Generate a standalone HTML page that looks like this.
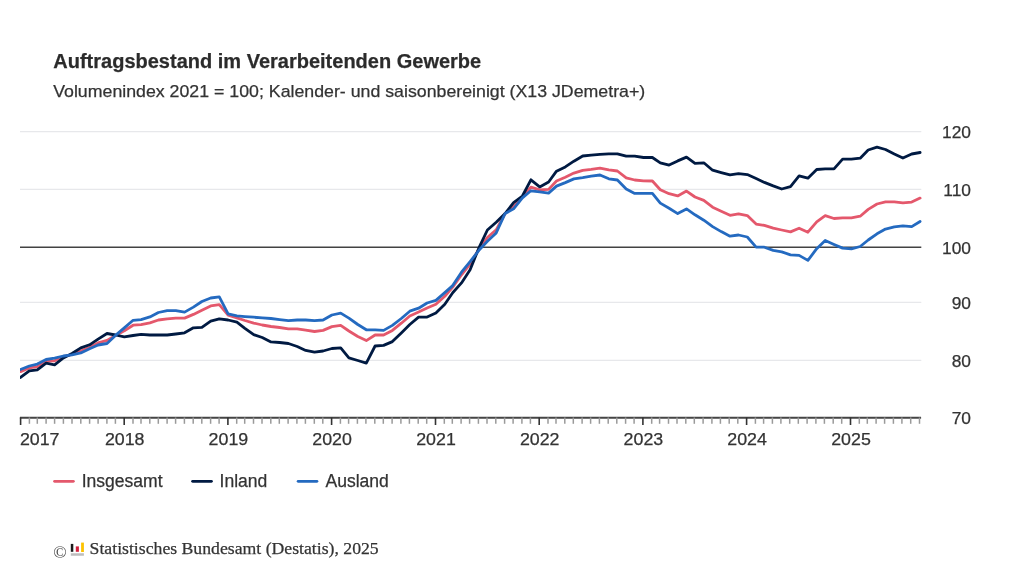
<!DOCTYPE html>
<html><head><meta charset="utf-8"><title>Auftragsbestand im Verarbeitenden Gewerbe</title>
<style>
html,body{margin:0;padding:0;background:#fff;}
body{width:1024px;height:576px;overflow:hidden;font-family:"Liberation Sans",sans-serif;}
svg{display:block;will-change:transform;filter:blur(0.4px);}
svg text{font-family:"Liberation Sans",sans-serif;stroke:#333;stroke-width:0.25px;}
.serif{font-family:"Liberation Serif",serif !important;}
</style></head><body>
<svg width="1024" height="576" viewBox="0 0 1024 576">
<rect width="1024" height="576" fill="#fff"/>
<text x="53.3" y="67.5" font-size="19.5" font-weight="bold" fill="#2b2b2b" textLength="427.9" lengthAdjust="spacingAndGlyphs">Auftragsbestand im Verarbeitenden Gewerbe</text>
<text x="53.2" y="97.25" font-size="17.15" fill="#333" textLength="592" lengthAdjust="spacingAndGlyphs">Volumenindex 2021 = 100; Kalender- und saisonbereinigt (X13 JDemetra+)</text>
<line x1="20" y1="131.65" x2="921.3" y2="131.65" stroke="#e7e8eb" stroke-width="1.2"/>
<line x1="20" y1="189.3" x2="921.3" y2="189.3" stroke="#e7e8eb" stroke-width="1.2"/>
<line x1="20" y1="302.45" x2="921.3" y2="302.45" stroke="#e7e8eb" stroke-width="1.2"/>
<line x1="20" y1="360.3" x2="921.3" y2="360.3" stroke="#e7e8eb" stroke-width="1.2"/>

<line x1="20" y1="247.35" x2="921.3" y2="247.35" stroke="#424242" stroke-width="1.5"/>
<clipPath id="cp"><rect x="20" y="100" width="910" height="330"/></clipPath>
<g fill="none" stroke-linejoin="round" stroke-linecap="round" stroke-width="2.8" clip-path="url(#cp)">
<path d="M20.5,371.6 L29.3,367.9 L37.3,366.6 L46.1,361.2 L54.6,360.8 L63.4,356.6 L72.0,354.5 L80.8,351.0 L89.6,347.2 L98.1,342.9 L107.0,340.4 L115.5,335.4 L124.3,330.8 L133.1,325.2 L141.1,324.7 L149.9,322.8 L158.4,320.0 L167.2,318.8 L175.8,318.1 L184.6,318.1 L193.4,314.4 L201.9,310.2 L210.7,305.9 L219.3,304.6 L228.1,315.2 L236.9,317.8 L244.9,320.5 L253.7,323.1 L262.2,325.0 L271.0,326.5 L279.6,327.5 L288.4,328.8 L297.2,328.8 L305.7,330.2 L314.5,331.5 L323.1,330.4 L331.9,326.6 L340.7,325.4 L348.9,331.0 L357.8,336.5 L366.3,340.6 L375.1,335.0 L383.6,335.0 L392.4,330.4 L401.3,323.2 L409.8,316.0 L418.6,312.0 L427.1,308.0 L435.9,304.3 L444.8,296.3 L452.7,287.2 L461.5,274.8 L470.1,264.1 L478.9,249.2 L487.4,237.5 L496.2,229.8 L505.1,213.5 L513.6,206.6 L522.4,196.6 L530.9,187.2 L539.7,189.8 L548.6,189.4 L556.5,181.0 L565.3,177.2 L573.9,173.1 L582.7,170.4 L591.2,169.4 L600.0,168.1 L608.8,169.8 L617.4,171.0 L626.2,177.9 L634.7,180.0 L643.5,180.9 L652.4,181.0 L660.3,189.7 L669.1,193.7 L677.7,195.9 L686.5,191.1 L695.0,197.0 L703.8,200.4 L712.6,207.2 L721.2,211.2 L730.0,215.3 L738.5,213.8 L747.3,215.6 L756.1,224.1 L764.4,225.4 L773.2,228.2 L781.7,230.0 L790.5,231.9 L799.1,228.2 L807.9,232.2 L816.7,221.8 L825.2,215.6 L834.0,218.5 L842.6,217.9 L851.4,217.8 L860.2,216.2 L868.2,209.4 L877.0,204.0 L885.5,201.9 L894.3,201.9 L902.9,202.8 L911.7,202.1 L920.1,198.1" stroke="#e4586c"/>
<path d="M20.5,377.5 L29.3,370.8 L37.3,369.8 L46.1,363.2 L54.6,364.8 L63.4,357.9 L72.0,353.5 L80.8,347.9 L89.6,344.8 L98.1,339.1 L107.0,333.5 L115.5,335.0 L124.3,336.8 L133.1,335.5 L141.1,334.4 L149.9,335.0 L158.4,335.0 L167.2,335.0 L175.8,334.0 L184.6,332.8 L193.4,327.8 L201.9,327.4 L210.7,321.2 L219.3,318.8 L228.1,320.0 L236.9,322.1 L244.9,328.3 L253.7,334.7 L262.2,337.5 L271.0,341.9 L279.6,342.5 L288.4,343.5 L297.2,346.5 L305.7,350.4 L314.5,352.2 L323.1,351.0 L331.9,348.5 L340.7,347.9 L348.9,357.9 L357.8,360.5 L366.3,363.1 L375.1,346.0 L383.6,345.4 L392.4,341.6 L401.3,332.9 L409.8,324.5 L418.6,317.2 L427.1,317.0 L435.9,312.9 L444.8,304.2 L452.7,292.7 L461.5,282.9 L470.1,269.8 L478.9,247.9 L487.4,230.0 L496.2,222.2 L505.1,213.5 L513.6,202.6 L522.4,196.0 L530.9,179.8 L539.7,186.9 L548.6,182.0 L556.5,171.2 L565.3,166.9 L573.9,161.2 L582.7,156.0 L591.2,155.2 L600.0,154.4 L608.8,153.8 L617.4,153.8 L626.2,156.2 L634.7,156.2 L643.5,157.5 L652.4,157.5 L660.3,162.8 L669.1,165.1 L677.7,160.9 L686.5,157.1 L695.0,163.4 L703.8,162.8 L712.6,170.2 L721.2,172.6 L730.0,174.9 L738.5,173.6 L747.3,174.6 L756.1,178.6 L764.4,182.4 L773.2,185.9 L781.7,189.0 L790.5,186.6 L799.1,175.8 L807.9,178.2 L816.7,169.5 L825.2,168.9 L834.0,168.9 L842.6,159.1 L851.4,159.1 L860.2,158.2 L868.2,150.0 L877.0,147.2 L885.5,149.5 L894.3,154.0 L902.9,158.1 L911.7,154.0 L920.1,152.5" stroke="#001a42"/>
<path d="M20.5,369.5 L29.3,366.0 L37.3,364.1 L46.1,359.5 L54.6,358.2 L63.4,356.0 L72.0,354.8 L80.8,352.9 L89.6,348.8 L98.1,345.0 L107.0,343.5 L115.5,335.4 L124.3,327.9 L133.1,320.3 L141.1,319.6 L149.9,316.9 L158.4,312.5 L167.2,310.6 L175.8,310.6 L184.6,312.1 L193.4,307.1 L201.9,301.5 L210.7,298.0 L219.3,296.9 L228.1,313.8 L236.9,315.9 L244.9,316.6 L253.7,317.2 L262.2,317.9 L271.0,318.5 L279.6,319.6 L288.4,320.6 L297.2,320.0 L305.7,320.0 L314.5,320.6 L323.1,320.0 L331.9,315.0 L340.7,313.1 L348.9,318.1 L357.8,324.5 L366.3,329.8 L375.1,329.8 L383.6,330.4 L392.4,325.4 L401.3,318.5 L409.8,311.2 L418.6,308.2 L427.1,303.0 L435.9,300.4 L444.8,292.6 L452.7,285.6 L461.5,272.2 L470.1,261.6 L478.9,250.3 L487.4,241.3 L496.2,232.9 L505.1,213.5 L513.6,208.8 L522.4,197.9 L530.9,190.8 L539.7,191.8 L548.6,193.1 L556.5,186.1 L565.3,182.6 L573.9,178.9 L582.7,177.7 L591.2,176.2 L600.0,175.0 L608.8,178.8 L617.4,180.0 L626.2,189.0 L634.7,193.4 L643.5,193.4 L652.4,193.4 L660.3,203.1 L669.1,208.2 L677.7,213.6 L686.5,208.9 L695.0,214.8 L703.8,220.2 L712.6,226.6 L721.2,231.6 L730.0,236.2 L738.5,235.0 L747.3,237.0 L756.1,247.2 L764.4,247.2 L773.2,250.4 L781.7,251.9 L790.5,254.8 L799.1,255.4 L807.9,260.4 L816.7,248.7 L825.2,240.4 L834.0,244.4 L842.6,248.1 L851.4,248.8 L860.2,246.5 L868.2,240.0 L877.0,233.8 L885.5,229.1 L894.3,226.9 L902.9,225.9 L911.7,226.6 L920.1,221.5" stroke="#246ac0"/>
</g>
<line x1="19.9" y1="417.8" x2="921.1" y2="417.8" stroke="#444" stroke-width="1.9"/>
<line x1="20.6" y1="417.5" x2="20.6" y2="425" stroke="#333" stroke-width="1.6"/>
<line x1="29.4" y1="417.5" x2="29.4" y2="423.8" stroke="#9a9a9a" stroke-width="1.5"/>
<line x1="37.3" y1="417.5" x2="37.3" y2="423.8" stroke="#9a9a9a" stroke-width="1.5"/>
<line x1="46.1" y1="417.5" x2="46.1" y2="423.8" stroke="#9a9a9a" stroke-width="1.5"/>
<line x1="54.6" y1="417.5" x2="54.6" y2="423.8" stroke="#9a9a9a" stroke-width="1.5"/>
<line x1="63.4" y1="417.5" x2="63.4" y2="423.8" stroke="#9a9a9a" stroke-width="1.5"/>
<line x1="72.0" y1="417.5" x2="72.0" y2="423.8" stroke="#9a9a9a" stroke-width="1.5"/>
<line x1="80.8" y1="417.5" x2="80.8" y2="423.8" stroke="#9a9a9a" stroke-width="1.5"/>
<line x1="89.6" y1="417.5" x2="89.6" y2="423.8" stroke="#9a9a9a" stroke-width="1.5"/>
<line x1="98.1" y1="417.5" x2="98.1" y2="423.8" stroke="#9a9a9a" stroke-width="1.5"/>
<line x1="106.9" y1="417.5" x2="106.9" y2="423.8" stroke="#9a9a9a" stroke-width="1.5"/>
<line x1="115.4" y1="417.5" x2="115.4" y2="423.8" stroke="#9a9a9a" stroke-width="1.5"/>
<line x1="124.2" y1="417.5" x2="124.2" y2="425" stroke="#333" stroke-width="1.6"/>
<line x1="133.0" y1="417.5" x2="133.0" y2="423.8" stroke="#9a9a9a" stroke-width="1.5"/>
<line x1="141.0" y1="417.5" x2="141.0" y2="423.8" stroke="#9a9a9a" stroke-width="1.5"/>
<line x1="149.8" y1="417.5" x2="149.8" y2="423.8" stroke="#9a9a9a" stroke-width="1.5"/>
<line x1="158.3" y1="417.5" x2="158.3" y2="423.8" stroke="#9a9a9a" stroke-width="1.5"/>
<line x1="167.1" y1="417.5" x2="167.1" y2="423.8" stroke="#9a9a9a" stroke-width="1.5"/>
<line x1="175.6" y1="417.5" x2="175.6" y2="423.8" stroke="#9a9a9a" stroke-width="1.5"/>
<line x1="184.4" y1="417.5" x2="184.4" y2="423.8" stroke="#9a9a9a" stroke-width="1.5"/>
<line x1="193.2" y1="417.5" x2="193.2" y2="423.8" stroke="#9a9a9a" stroke-width="1.5"/>
<line x1="201.8" y1="417.5" x2="201.8" y2="423.8" stroke="#9a9a9a" stroke-width="1.5"/>
<line x1="210.6" y1="417.5" x2="210.6" y2="423.8" stroke="#9a9a9a" stroke-width="1.5"/>
<line x1="219.1" y1="417.5" x2="219.1" y2="423.8" stroke="#9a9a9a" stroke-width="1.5"/>
<line x1="227.9" y1="417.5" x2="227.9" y2="425" stroke="#333" stroke-width="1.6"/>
<line x1="236.7" y1="417.5" x2="236.7" y2="423.8" stroke="#9a9a9a" stroke-width="1.5"/>
<line x1="244.7" y1="417.5" x2="244.7" y2="423.8" stroke="#9a9a9a" stroke-width="1.5"/>
<line x1="253.5" y1="417.5" x2="253.5" y2="423.8" stroke="#9a9a9a" stroke-width="1.5"/>
<line x1="262.0" y1="417.5" x2="262.0" y2="423.8" stroke="#9a9a9a" stroke-width="1.5"/>
<line x1="270.8" y1="417.5" x2="270.8" y2="423.8" stroke="#9a9a9a" stroke-width="1.5"/>
<line x1="279.3" y1="417.5" x2="279.3" y2="423.8" stroke="#9a9a9a" stroke-width="1.5"/>
<line x1="288.1" y1="417.5" x2="288.1" y2="423.8" stroke="#9a9a9a" stroke-width="1.5"/>
<line x1="296.9" y1="417.5" x2="296.9" y2="423.8" stroke="#9a9a9a" stroke-width="1.5"/>
<line x1="305.4" y1="417.5" x2="305.4" y2="423.8" stroke="#9a9a9a" stroke-width="1.5"/>
<line x1="314.3" y1="417.5" x2="314.3" y2="423.8" stroke="#9a9a9a" stroke-width="1.5"/>
<line x1="322.8" y1="417.5" x2="322.8" y2="423.8" stroke="#9a9a9a" stroke-width="1.5"/>
<line x1="331.6" y1="417.5" x2="331.6" y2="425" stroke="#333" stroke-width="1.6"/>
<line x1="340.4" y1="417.5" x2="340.4" y2="423.8" stroke="#9a9a9a" stroke-width="1.5"/>
<line x1="348.6" y1="417.5" x2="348.6" y2="423.8" stroke="#9a9a9a" stroke-width="1.5"/>
<line x1="357.4" y1="417.5" x2="357.4" y2="423.8" stroke="#9a9a9a" stroke-width="1.5"/>
<line x1="365.9" y1="417.5" x2="365.9" y2="423.8" stroke="#9a9a9a" stroke-width="1.5"/>
<line x1="374.8" y1="417.5" x2="374.8" y2="423.8" stroke="#9a9a9a" stroke-width="1.5"/>
<line x1="383.3" y1="417.5" x2="383.3" y2="423.8" stroke="#9a9a9a" stroke-width="1.5"/>
<line x1="392.1" y1="417.5" x2="392.1" y2="423.8" stroke="#9a9a9a" stroke-width="1.5"/>
<line x1="400.9" y1="417.5" x2="400.9" y2="423.8" stroke="#9a9a9a" stroke-width="1.5"/>
<line x1="409.4" y1="417.5" x2="409.4" y2="423.8" stroke="#9a9a9a" stroke-width="1.5"/>
<line x1="418.2" y1="417.5" x2="418.2" y2="423.8" stroke="#9a9a9a" stroke-width="1.5"/>
<line x1="426.7" y1="417.5" x2="426.7" y2="423.8" stroke="#9a9a9a" stroke-width="1.5"/>
<line x1="435.5" y1="417.5" x2="435.5" y2="425" stroke="#333" stroke-width="1.6"/>
<line x1="444.3" y1="417.5" x2="444.3" y2="423.8" stroke="#9a9a9a" stroke-width="1.5"/>
<line x1="452.3" y1="417.5" x2="452.3" y2="423.8" stroke="#9a9a9a" stroke-width="1.5"/>
<line x1="461.1" y1="417.5" x2="461.1" y2="423.8" stroke="#9a9a9a" stroke-width="1.5"/>
<line x1="469.6" y1="417.5" x2="469.6" y2="423.8" stroke="#9a9a9a" stroke-width="1.5"/>
<line x1="478.4" y1="417.5" x2="478.4" y2="423.8" stroke="#9a9a9a" stroke-width="1.5"/>
<line x1="487.0" y1="417.5" x2="487.0" y2="423.8" stroke="#9a9a9a" stroke-width="1.5"/>
<line x1="495.8" y1="417.5" x2="495.8" y2="423.8" stroke="#9a9a9a" stroke-width="1.5"/>
<line x1="504.6" y1="417.5" x2="504.6" y2="423.8" stroke="#9a9a9a" stroke-width="1.5"/>
<line x1="513.1" y1="417.5" x2="513.1" y2="423.8" stroke="#9a9a9a" stroke-width="1.5"/>
<line x1="521.9" y1="417.5" x2="521.9" y2="423.8" stroke="#9a9a9a" stroke-width="1.5"/>
<line x1="530.4" y1="417.5" x2="530.4" y2="423.8" stroke="#9a9a9a" stroke-width="1.5"/>
<line x1="539.2" y1="417.5" x2="539.2" y2="425" stroke="#333" stroke-width="1.6"/>
<line x1="548.0" y1="417.5" x2="548.0" y2="423.8" stroke="#9a9a9a" stroke-width="1.5"/>
<line x1="556.0" y1="417.5" x2="556.0" y2="423.8" stroke="#9a9a9a" stroke-width="1.5"/>
<line x1="564.8" y1="417.5" x2="564.8" y2="423.8" stroke="#9a9a9a" stroke-width="1.5"/>
<line x1="573.3" y1="417.5" x2="573.3" y2="423.8" stroke="#9a9a9a" stroke-width="1.5"/>
<line x1="582.1" y1="417.5" x2="582.1" y2="423.8" stroke="#9a9a9a" stroke-width="1.5"/>
<line x1="590.6" y1="417.5" x2="590.6" y2="423.8" stroke="#9a9a9a" stroke-width="1.5"/>
<line x1="599.4" y1="417.5" x2="599.4" y2="423.8" stroke="#9a9a9a" stroke-width="1.5"/>
<line x1="608.2" y1="417.5" x2="608.2" y2="423.8" stroke="#9a9a9a" stroke-width="1.5"/>
<line x1="616.8" y1="417.5" x2="616.8" y2="423.8" stroke="#9a9a9a" stroke-width="1.5"/>
<line x1="625.6" y1="417.5" x2="625.6" y2="423.8" stroke="#9a9a9a" stroke-width="1.5"/>
<line x1="634.1" y1="417.5" x2="634.1" y2="423.8" stroke="#9a9a9a" stroke-width="1.5"/>
<line x1="642.9" y1="417.5" x2="642.9" y2="425" stroke="#333" stroke-width="1.6"/>
<line x1="651.7" y1="417.5" x2="651.7" y2="423.8" stroke="#9a9a9a" stroke-width="1.5"/>
<line x1="659.6" y1="417.5" x2="659.6" y2="423.8" stroke="#9a9a9a" stroke-width="1.5"/>
<line x1="668.5" y1="417.5" x2="668.5" y2="423.8" stroke="#9a9a9a" stroke-width="1.5"/>
<line x1="677.0" y1="417.5" x2="677.0" y2="423.8" stroke="#9a9a9a" stroke-width="1.5"/>
<line x1="685.8" y1="417.5" x2="685.8" y2="423.8" stroke="#9a9a9a" stroke-width="1.5"/>
<line x1="694.3" y1="417.5" x2="694.3" y2="423.8" stroke="#9a9a9a" stroke-width="1.5"/>
<line x1="703.1" y1="417.5" x2="703.1" y2="423.8" stroke="#9a9a9a" stroke-width="1.5"/>
<line x1="711.9" y1="417.5" x2="711.9" y2="423.8" stroke="#9a9a9a" stroke-width="1.5"/>
<line x1="720.4" y1="417.5" x2="720.4" y2="423.8" stroke="#9a9a9a" stroke-width="1.5"/>
<line x1="729.2" y1="417.5" x2="729.2" y2="423.8" stroke="#9a9a9a" stroke-width="1.5"/>
<line x1="737.8" y1="417.5" x2="737.8" y2="423.8" stroke="#9a9a9a" stroke-width="1.5"/>
<line x1="746.6" y1="417.5" x2="746.6" y2="425" stroke="#333" stroke-width="1.6"/>
<line x1="755.4" y1="417.5" x2="755.4" y2="423.8" stroke="#9a9a9a" stroke-width="1.5"/>
<line x1="763.6" y1="417.5" x2="763.6" y2="423.8" stroke="#9a9a9a" stroke-width="1.5"/>
<line x1="772.4" y1="417.5" x2="772.4" y2="423.8" stroke="#9a9a9a" stroke-width="1.5"/>
<line x1="780.9" y1="417.5" x2="780.9" y2="423.8" stroke="#9a9a9a" stroke-width="1.5"/>
<line x1="789.7" y1="417.5" x2="789.7" y2="423.8" stroke="#9a9a9a" stroke-width="1.5"/>
<line x1="798.3" y1="417.5" x2="798.3" y2="423.8" stroke="#9a9a9a" stroke-width="1.5"/>
<line x1="807.1" y1="417.5" x2="807.1" y2="423.8" stroke="#9a9a9a" stroke-width="1.5"/>
<line x1="815.9" y1="417.5" x2="815.9" y2="423.8" stroke="#9a9a9a" stroke-width="1.5"/>
<line x1="824.4" y1="417.5" x2="824.4" y2="423.8" stroke="#9a9a9a" stroke-width="1.5"/>
<line x1="833.2" y1="417.5" x2="833.2" y2="423.8" stroke="#9a9a9a" stroke-width="1.5"/>
<line x1="841.7" y1="417.5" x2="841.7" y2="423.8" stroke="#9a9a9a" stroke-width="1.5"/>
<line x1="850.5" y1="417.5" x2="850.5" y2="425" stroke="#333" stroke-width="1.6"/>
<line x1="859.3" y1="417.5" x2="859.3" y2="423.8" stroke="#9a9a9a" stroke-width="1.5"/>
<line x1="867.3" y1="417.5" x2="867.3" y2="423.8" stroke="#9a9a9a" stroke-width="1.5"/>
<line x1="876.1" y1="417.5" x2="876.1" y2="423.8" stroke="#9a9a9a" stroke-width="1.5"/>
<line x1="884.6" y1="417.5" x2="884.6" y2="423.8" stroke="#9a9a9a" stroke-width="1.5"/>
<line x1="893.4" y1="417.5" x2="893.4" y2="423.8" stroke="#9a9a9a" stroke-width="1.5"/>
<line x1="901.9" y1="417.5" x2="901.9" y2="423.8" stroke="#9a9a9a" stroke-width="1.5"/>
<line x1="910.7" y1="417.5" x2="910.7" y2="423.8" stroke="#9a9a9a" stroke-width="1.5"/>
<line x1="919.5" y1="417.5" x2="919.5" y2="423.8" stroke="#9a9a9a" stroke-width="1.5"/>

<g font-size="17.3" fill="#333">
<text x="19.9" y="445.2" text-anchor="start" textLength="39.6" lengthAdjust="spacingAndGlyphs">2017</text>
<text x="124.7" y="445.2" text-anchor="middle" textLength="39.6" lengthAdjust="spacingAndGlyphs">2018</text>
<text x="228.4" y="445.2" text-anchor="middle" textLength="39.6" lengthAdjust="spacingAndGlyphs">2019</text>
<text x="332.1" y="445.2" text-anchor="middle" textLength="39.6" lengthAdjust="spacingAndGlyphs">2020</text>
<text x="436.0" y="445.2" text-anchor="middle" textLength="39.6" lengthAdjust="spacingAndGlyphs">2021</text>
<text x="539.7" y="445.2" text-anchor="middle" textLength="39.6" lengthAdjust="spacingAndGlyphs">2022</text>
<text x="643.4" y="445.2" text-anchor="middle" textLength="39.6" lengthAdjust="spacingAndGlyphs">2023</text>
<text x="747.1" y="445.2" text-anchor="middle" textLength="39.6" lengthAdjust="spacingAndGlyphs">2024</text>
<text x="851.0" y="445.2" text-anchor="middle" textLength="39.6" lengthAdjust="spacingAndGlyphs">2025</text>
</g>
<g font-size="17.35" fill="#333">
<text x="971.0" y="138.1" text-anchor="end">120</text>
<text x="971.0" y="195.8" text-anchor="end">110</text>
<text x="971.0" y="253.5" text-anchor="end">100</text>
<text x="971.0" y="308.9" text-anchor="end">90</text>
<text x="971.0" y="366.8" text-anchor="end">80</text>
<text x="971.0" y="424.3" text-anchor="end">70</text>

</g>
<g stroke-width="2.7" fill="none" stroke-linecap="round">
<line x1="54.5" y1="481.35" x2="73.4" y2="481.35" stroke="#e4586c"/>
<line x1="192.55" y1="481.35" x2="211.5" y2="481.35" stroke="#001a42"/>
<line x1="298.1" y1="481.35" x2="317" y2="481.35" stroke="#246ac0"/>
</g>
<g font-size="17.55" fill="#333">
<text x="81.7" y="486.65" textLength="80.9" lengthAdjust="spacingAndGlyphs">Insgesamt</text>
<text x="219.6" y="486.65" textLength="47.8" lengthAdjust="spacingAndGlyphs">Inland</text>
<text x="325.5" y="486.65" textLength="63.35" lengthAdjust="spacingAndGlyphs">Ausland</text>
</g>
<g class="serif" font-size="17.72" fill="#333">
<text class="serif" x="53.3" y="557.6" font-size="17.72" fill="#4a4a4a" style="stroke:none">©</text>
<text class="serif" x="89.6" y="554.3">Statistisches Bundesamt (Destatis), 2025</text>
</g>
<rect x="70.8" y="543.9" width="2.5" height="7.9" fill="#1a1a1a"/>
<rect x="75.8" y="546.4" width="3.1" height="5.4" fill="#d4213d"/>
<rect x="81.1" y="542.6" width="2.8" height="9.4" fill="#fdc300"/>
<rect x="70.8" y="553.25" width="13.1" height="2.5" fill="#bdbdbd"/>
</svg>
</body></html>
